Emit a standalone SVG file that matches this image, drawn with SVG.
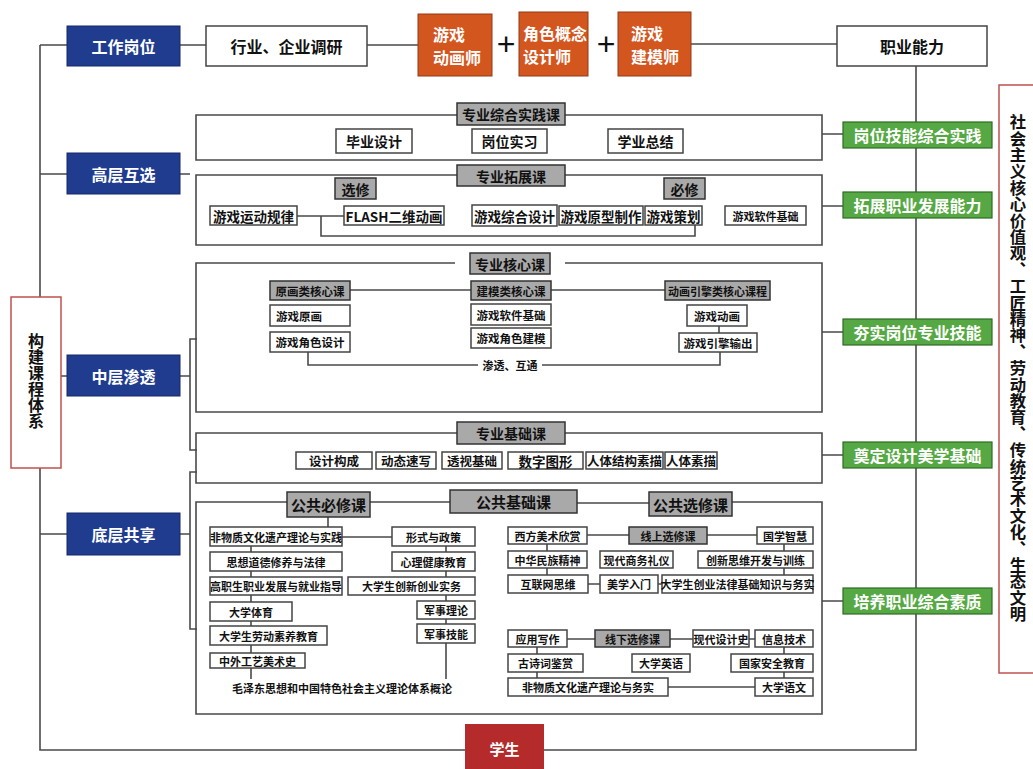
<svg xmlns="http://www.w3.org/2000/svg" width="1033" height="769" viewBox="0 0 1033 769">
<style>
text{font-family:'Noto Sans CJK SC','Noto Sans',sans-serif;font-weight:700;fill:#111;text-anchor:middle;dominant-baseline:central}
.ln{stroke:#4a4a4a;stroke-width:1.6;fill:none}
.box{fill:#fff;stroke:#444;stroke-width:1.5}
.gray{fill:#a9a9a9;stroke:#333;stroke-width:1.5}
.blue{fill:#1f3c8f;stroke:#16296a;stroke-width:1}
.orange{fill:#d4561f;stroke:#8f3a16;stroke-width:1}
.green{fill:#55a843;stroke:#2f6b24;stroke-width:1.2}
.red{fill:#b52b2b}
.rbox{fill:#fff;stroke:#c0504d;stroke-width:1.5}
.w{fill:#fff}
.st{text-anchor:start}
.f16{font-size:16px}.f15{font-size:15px}.f14{font-size:14px}.f13{font-size:13.5px}.f12{font-size:12.5px}.f11{font-size:11.5px}.f10{font-size:11px}
.vt{writing-mode:vertical-rl}
</style>
<rect width="1033" height="769" fill="#fff"/>
<g id="connectors">
<path class="ln" d="M40 45 V750 H465 M40 45 H67 M40 174 H67 M40 376 H67 M40 534 H67"/>
<path class="ln" d="M180 45 H206 M367 45 H418 M691 44 H837"/>
<path class="ln" d="M916 66 V750 H544"/>
<path class="ln" d="M180 174 H190 M180 376 H190 M197 339 H190 V450 H197 M180 534 H190 M197 472 H190 V629 H197"/>
<path class="ln" d="M822 134 H843 M822 206 H843 M822 332 H843 M822 455 H843 M822 601 H843"/>
<path class="ln" d="M297 216 H344 M321 216 V236 H695 V225"/>
<path class="ln" d="M350 290 H471 M551 290 H665 M719 326 V333 M308 352 V365 H478 M542 365 H720 V352"/>
<path class="ln" d="M328 517 V527 M342 537 H392 M251 546 V679 M446 546 V679"/>
<path class="ln" d="M587 535 H629 M707 535 H757 M547 544 V575 M784 544 V575 M588 584 H600 M658 584 H662 M567 639 H595 M670 639 H693 M749 639 H755 M537 647 V678 M784 647 V678 M668 687 H755"/>
</g>
<g id="sections">
<path class="ln" d="M457 115 H196 V160 H822 V115 H565"/>
<path class="ln" d="M457 175 H196 V245 H822 V175 H565"/>
<path class="ln" d="M455 263 H196 V412 H822 V263 H565"/>
<path class="ln" d="M457 433 H196 V483 H822 V433 H565"/>
<path class="ln" d="M287 502 H196 V714 H822 V502 H732 M370 502 H450 M577 503 H649"/>
</g>
<g id="n-gongzuo"><rect class="blue" x="67" y="26" width="113" height="40"/><text class="w f16" x="123.5" y="46">工作岗位</text></g>
<g id="n-hangye"><rect class="box" x="206" y="26" width="161" height="40"/><text class="f16" x="286.5" y="46">行业、企业调研</text></g>
<g id="n-donghua"><rect class="orange" x="418" y="14" width="74" height="62"/><text class="w f16 st" x="433" y="34">游戏</text><text class="w f16 st" x="433" y="57">动画师</text></g>
<g id="plus1"><text x="506" y="44" style="font-family:'Liberation Sans',sans-serif;font-size:32px;font-weight:400">+</text></g>
<g id="n-juese"><rect class="orange" x="519" y="12" width="69" height="64"/><text class="w f16 st" x="523" y="33">角色概念</text><text class="w f16 st" x="523" y="56">设计师</text></g>
<g id="plus2"><text x="606" y="44" style="font-family:'Liberation Sans',sans-serif;font-size:32px;font-weight:400">+</text></g>
<g id="n-jianmo"><rect class="orange" x="618" y="12" width="73" height="64"/><text class="w f16 st" x="631" y="33">游戏</text><text class="w f16 st" x="631" y="56">建模师</text></g>
<g id="n-zhiye"><rect class="box" x="837" y="26" width="150" height="40"/><text class="f16" x="912" y="46">职业能力</text></g>
<g id="n-gaoceng"><rect class="blue" x="67" y="153" width="113" height="41"/><text class="w f16" x="123.5" y="174">高层互选</text></g>
<g id="n-zhongceng"><rect class="blue" x="67" y="355" width="113" height="41"/><text class="w f16" x="123.5" y="376">中层渗透</text></g>
<g id="n-diceng"><rect class="blue" x="67" y="513" width="113" height="42"/><text class="w f16" x="123.5" y="534">底层共享</text></g>
<g id="n-goujian"><rect class="rbox" x="11" y="297" width="50" height="171"/><text class="f16 vt" x="36" y="381">构建课程体系</text></g>
<g id="n-xuesheng"><rect class="red" x="465" y="724" width="79" height="50"/><text class="w f15" x="504.5" y="748">学生</text></g>
<g id="n-values"><rect class="rbox" x="999" y="85" width="45" height="588"/><text class="vt" x="1018" y="368" style="font-size:16.4px">社会主义核心价值观、工匠精神、劳动教育、传统艺术文化、生态文明</text></g>
<g id="g-1"><rect class="green" x="843" y="122" width="149" height="26"/><text class="w f16" x="917.5" y="135">岗位技能综合实践</text></g>
<g id="g-2"><rect class="green" x="843" y="192" width="149" height="26"/><text class="w f16" x="917.5" y="205">拓展职业发展能力</text></g>
<g id="g-3"><rect class="green" x="843" y="319" width="149" height="26"/><text class="w f16" x="917.5" y="332">夯实岗位专业技能</text></g>
<g id="g-4"><rect class="green" x="843" y="442" width="149" height="26"/><text class="w f16" x="917.5" y="455">奠定设计美学基础</text></g>
<g id="g-5"><rect class="green" x="843" y="588" width="149" height="26"/><text class="w f16" x="917.5" y="601">培养职业综合素质</text></g>
<g id="s1">
<g id="s1-title"><rect class="gray" x="457" y="103" width="108" height="22"/><text class="f14" x="511" y="114">专业综合实践课</text></g>
<g id="s1-a"><rect class="box" x="336" y="129" width="76" height="24"/><text class="f14" x="374" y="141">毕业设计</text></g>
<g id="s1-b"><rect class="box" x="472" y="129" width="75" height="24"/><text class="f14" x="509.5" y="141">岗位实习</text></g>
<g id="s1-c"><rect class="box" x="608" y="129" width="75" height="24"/><text class="f14" x="645.5" y="141">学业总结</text></g>
</g>
<g id="s2">
<g id="s2-title"><rect class="gray" x="457" y="165" width="108" height="21"/><text class="f14" x="511" y="175.5">专业拓展课</text></g>
<g id="s2-xx"><rect class="gray" x="335" y="178" width="41" height="21"/><text class="f14" x="355.5" y="188.5">选修</text></g>
<g id="s2-bx"><rect class="gray" x="664" y="178" width="41" height="21"/><text class="f14" x="684.5" y="188.5">必修</text></g>
<g id="s2-a"><rect class="box" x="210" y="206" width="87" height="19"/><text class="f13" x="253.5" y="215.5">游戏运动规律</text></g>
<g id="s2-b"><rect class="box" x="344" y="206" width="100" height="19"/><text class="f13" x="394" y="215.5">FLASH二维动画</text></g>
<g id="s2-c"><rect class="box" x="472" y="205" width="85" height="21"/><text class="f13" x="514.5" y="215.5">游戏综合设计</text></g>
<g id="s2-d"><rect class="box" x="559" y="206" width="84" height="19"/><text class="f13" x="601" y="215.5">游戏原型制作</text></g>
<g id="s2-e"><rect class="box" x="645" y="206" width="57" height="19"/><text class="f13" x="673.5" y="215.5">游戏策划</text></g>
<g id="s2-f"><rect class="box" x="725" y="206" width="81" height="19"/><text class="f10" x="765.5" y="215.5">游戏软件基础</text></g>
</g>
<g id="s3">
<g id="s3-title"><rect class="gray" x="470" y="253" width="80" height="21"/><text class="f14" x="510" y="263.5">专业核心课</text></g>
<g id="s3-h1"><rect class="gray" x="270" y="281" width="80" height="19"/><text class="f11" x="310" y="290.5">原画类核心课</text></g>
<g id="s3-h2"><rect class="gray" x="471" y="281" width="80" height="19"/><text class="f11" x="511" y="290.5">建模类核心课</text></g>
<g id="s3-h3"><rect class="gray" x="665" y="281" width="105" height="19"/><text class="f10" x="717.5" y="290.5">动画引擎类核心课程</text></g>
<g id="s3-a"><rect class="box" x="270" y="305" width="80" height="21"/><text class="f11 st" x="276" y="315.5">游戏原画</text></g>
<g id="s3-b"><rect class="box" x="270" y="332" width="80" height="20"/><text class="f11" x="310" y="342">游戏角色设计</text></g>
<g id="s3-c"><rect class="box" x="471" y="304" width="80" height="21"/><text class="f11" x="511" y="314.5">游戏软件基础</text></g>
<g id="s3-d"><rect class="box" x="471" y="328" width="80" height="20"/><text class="f11" x="511" y="338">游戏角色建模</text></g>
<g id="s3-e"><rect class="box" x="687" y="305" width="60" height="21"/><text class="f11" x="717" y="315.5">游戏动画</text></g>
<g id="s3-f"><rect class="box" x="679" y="333" width="78" height="19"/><text class="f11" x="718" y="342.5">游戏引擎输出</text></g>
<text class="f10" x="510" y="365">渗透、互通</text>
</g>
<g id="s4">
<g id="s4-title"><rect class="gray" x="457" y="422" width="108" height="22"/><text class="f14" x="511" y="433">专业基础课</text></g>
<g id="s4-a"><rect class="box" x="296" y="452" width="76" height="17"/><text class="f12" x="334" y="460.5">设计构成</text></g>
<g id="s4-b"><rect class="box" x="376" y="452" width="60" height="17"/><text class="f12" x="406" y="460.5">动态速写</text></g>
<g id="s4-c"><rect class="box" x="442" y="452" width="60" height="17"/><text class="f12" x="472" y="460.5">透视基础</text></g>
<g id="s4-d"><rect class="box" x="508" y="452" width="75" height="17"/><text class="f13" x="545.5" y="460.5">数字图形</text></g>
<g id="s4-e"><rect class="box" x="586" y="452" width="77" height="17"/><text class="f12" x="624.5" y="460.5">人体结构素描</text></g>
<g id="s4-f"><rect class="box" x="665" y="452" width="52" height="17"/><text class="f12" x="691" y="460.5">人体素描</text></g>
</g>
<g id="s5">
<g id="s5-t1"><rect class="gray" x="287" y="492" width="83" height="25"/><text class="f15" x="328.5" y="504.5">公共必修课</text></g>
<g id="s5-t2"><rect class="gray" x="450" y="490" width="127" height="23"/><text class="f15" x="513.5" y="501.5">公共基础课</text></g>
<g id="s5-t3"><rect class="gray" x="649" y="492" width="83" height="24"/><text class="f15" x="690.5" y="504">公共选修课</text></g>
<g id="p-l1"><rect class="box" x="210" y="527" width="132" height="19"/><text class="f10" x="276" y="536.5">非物质文化遗产理论与实践</text></g>
<g id="p-l2"><rect class="box" x="210" y="552" width="132" height="19"/><text class="f10" x="276" y="561.5">思想道德修养与法律</text></g>
<g id="p-l3"><rect class="box" x="210" y="577" width="132" height="18"/><text class="f10" x="276" y="586">高职生职业发展与就业指导</text></g>
<g id="p-l4"><rect class="box" x="210" y="602" width="82" height="19"/><text class="f10" x="251" y="611.5">大学体育</text></g>
<g id="p-l5"><rect class="box" x="210" y="626" width="117" height="19"/><text class="f10" x="268.5" y="635.5">大学生劳动素养教育</text></g>
<g id="p-l6"><rect class="box" x="210" y="653" width="95" height="15"/><text class="f10" x="257.5" y="660.5">中外工艺美术史</text></g>
<g id="p-r1"><rect class="box" x="392" y="527" width="83" height="19"/><text class="f10" x="433.5" y="536.5">形式与政策</text></g>
<g id="p-r2"><rect class="box" x="392" y="552" width="83" height="19"/><text class="f10" x="433.5" y="561.5">心理健康教育</text></g>
<g id="p-r3"><rect class="box" x="348" y="577" width="127" height="18"/><text class="f10" x="411.5" y="586">大学生创新创业实务</text></g>
<g id="p-r4"><rect class="box" x="417" y="601" width="58" height="18"/><text class="f10" x="446" y="610">军事理论</text></g>
<g id="p-r5"><rect class="box" x="417" y="624" width="58" height="19"/><text class="f10" x="446" y="633.5">军事技能</text></g>
<text class="f10" x="342" y="688">毛泽东思想和中国特色社会主义理论体系概论</text>
<g id="e-1"><rect class="box" x="508" y="527" width="79" height="17"/><text class="f10" x="547.5" y="535.5">西方美术欣赏</text></g>
<g id="e-2"><rect class="gray" x="629" y="527" width="78" height="17"/><text class="f10" x="668" y="535.5">线上选修课</text></g>
<g id="e-3"><rect class="box" x="757" y="527" width="56" height="17"/><text class="f10" x="785" y="535.5">国学智慧</text></g>
<g id="e-4"><rect class="box" x="508" y="551" width="79" height="17"/><text class="f10" x="547.5" y="559.5">中华民族精神</text></g>
<g id="e-5"><rect class="box" x="600" y="551" width="73" height="17"/><text class="f10" x="636.5" y="559.5">现代商务礼仪</text></g>
<g id="e-6"><rect class="box" x="698" y="551" width="115" height="17"/><text class="f10" x="755.5" y="559.5">创新思维开发与训练</text></g>
<g id="e-7"><rect class="box" x="508" y="575" width="80" height="18"/><text class="f10" x="548" y="584">互联网思维</text></g>
<g id="e-8"><rect class="box" x="600" y="575" width="58" height="18"/><text class="f10" x="629" y="584">美学入门</text></g>
<g id="e-9"><rect class="box" x="662" y="575" width="151" height="18"/><text class="f10" x="737.5" y="584">大学生创业法律基础知识与务实</text></g>
<g id="e-10"><rect class="box" x="508" y="630" width="59" height="17"/><text class="f10" x="537.5" y="638.5">应用写作</text></g>
<g id="e-11"><rect class="gray" x="595" y="630" width="75" height="17"/><text class="f10" x="632.5" y="638.5">线下选修课</text></g>
<g id="e-12"><rect class="box" x="693" y="630" width="56" height="17"/><text class="f10" x="721" y="638.5">现代设计史</text></g>
<g id="e-13"><rect class="box" x="755" y="630" width="58" height="17"/><text class="f10" x="784" y="638.5">信息技术</text></g>
<g id="e-14"><rect class="box" x="508" y="654" width="75" height="18"/><text class="f10" x="545.5" y="663">古诗词鉴赏</text></g>
<g id="e-15"><rect class="box" x="632" y="654" width="58" height="18"/><text class="f10" x="661" y="663">大学英语</text></g>
<g id="e-16"><rect class="box" x="731" y="654" width="82" height="18"/><text class="f10" x="772" y="663">国家安全教育</text></g>
<g id="e-17"><rect class="box" x="508" y="678" width="160" height="18"/><text class="f10" x="588" y="687">非物质文化遗产理论与务实</text></g>
<g id="e-18"><rect class="box" x="755" y="678" width="58" height="18"/><text class="f10" x="784" y="687">大学语文</text></g>
</g>
</svg>
